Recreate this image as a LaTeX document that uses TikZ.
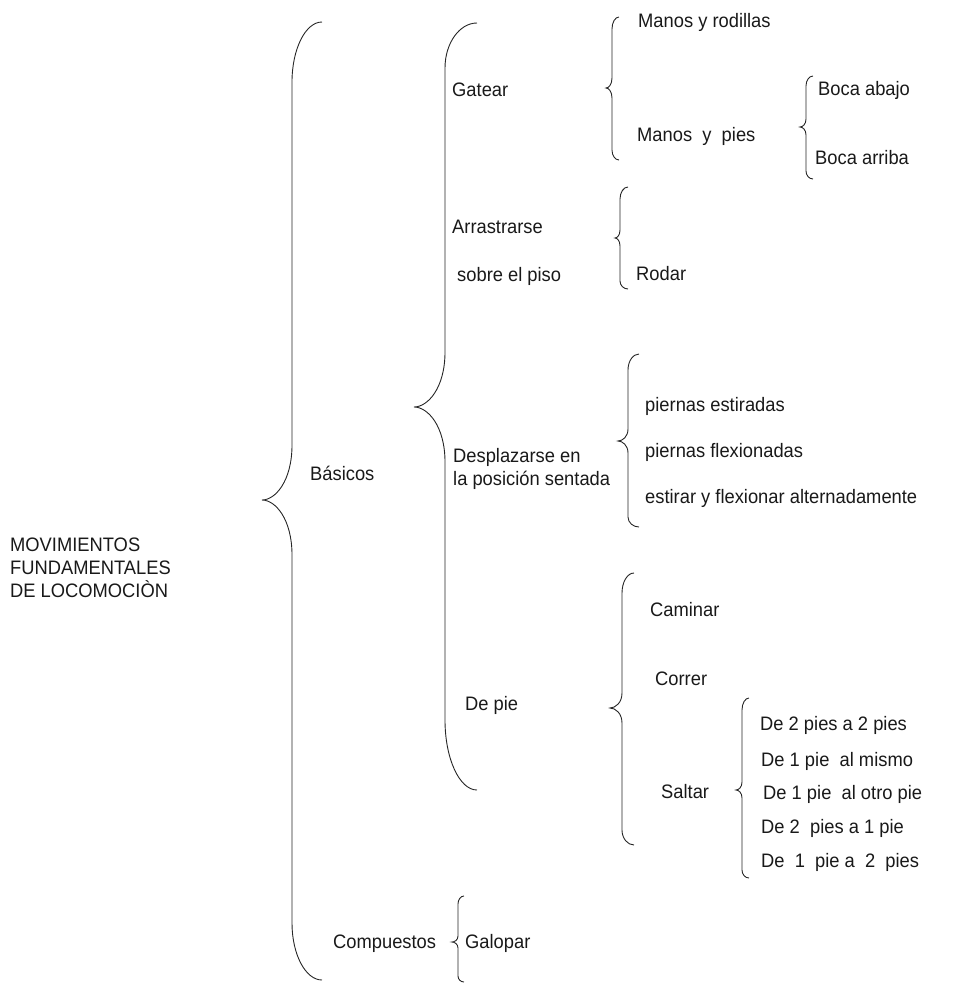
\documentclass[tikz,border=0pt]{standalone}
\usepackage{fontspec}
\setmainfont[FakeStretch=0.94]{Liberation Sans}
\newcommand\cbrace[9]{%
  % #1 end x, #2 vertical x, #3 tip x, #4 top y, #5 tip y, #6 bottom y, #7 top r, #8 mid r, #9 bottom r
  \draw[bracestyle] (#1,#4) .. controls ({#2+0.45*(#1-#2)},#4) and (#2,{#4+0.45*#7}) .. (#2,{#4+#7})
    -- (#2,{#5-#8}) .. controls (#2,{#5-0.35*#8}) and ({#3+0.45*(#2-#3)},#5) .. (#3,#5)
    .. controls ({#3+0.45*(#2-#3)},#5) and (#2,{#5+0.35*#8}) .. (#2,{#5+#8})
    -- (#2,{#6-#9}) .. controls (#2,{#6-0.45*#9}) and ({#2+0.45*(#1-#2)},#6) .. (#1,#6);}
\tikzset{
  bracestyle/.style={draw=black!85, line width=0.9pt},
  txt/.style={inner sep=0pt, font=\fontsize{19.5}{22.7}\selectfont, text=black!90},
  lbl/.style={txt, anchor=west, text height=0.72em, text depth=0pt},
  multi/.style={txt, anchor=north west, align=left},
}
\begin{document}
\begin{tikzpicture}[x=1pt,y=-1pt]
\useasboundingbox (0,0) rectangle (956,983);
% braces
\cbrace{322}{292}{262}{22}{500}{980}{60}{55}{57}
\cbrace{477}{445}{414}{23}{407}{790}{45}{55}{70}
\cbrace{619}{612}{606}{17}{88}{160}{12}{10}{10}
\cbrace{813}{806}{800}{76}{127}{179}{10}{8}{8}
\cbrace{628}{620}{615}{187}{238}{289}{12}{8}{8}
\cbrace{639}{628}{618}{354}{441}{527}{16}{12}{10}
\cbrace{634}{622}{610}{573}{708}{845}{20}{15}{15}
\cbrace{749}{742}{736}{698}{790}{878}{12}{8}{8}
\cbrace{464}{458}{452}{896}{942}{982}{8}{6}{6}
% labels
\node[multi] (root) at (10,538) {MOVIMIENTOS\\FUNDAMENTALES\\DE LOCOMOCIÒN};
\node[lbl] (bas) at (310,477) {Básicos};
\node[lbl] (comp) at (333,945) {Compuestos};
\node[lbl] (gal) at (465,945) {Galopar};
\node[lbl] (gat) at (452,92.5) {Gatear};
\node[lbl] (arr) at (452,230) {Arrastrarse};
\node[lbl] (arr2) at (457,278) {sobre el piso};
\node[multi] (des) at (453,448) {Desplazarse en\\ la posición sentada};
\node[lbl] (dep) at (465,707) {De pie};
\node[lbl] (mr) at (638,23.5) {Manos y rodillas};
\node[lbl] (mp) at (637,138) {Manos\ \ y\ \ pies};
\node[lbl] (ba) at (818,92) {Boca abajo};
\node[lbl] (bar) at (815,161) {Boca arriba};
\node[lbl] (rod) at (636,277) {Rodar};
\node[lbl] (pe) at (645,408) {piernas estiradas};
\node[lbl] (pf) at (645,454) {piernas flexionadas};
\node[lbl] (ef) at (645,500) {estirar y flexionar alternadamente};
\node[lbl] (cam) at (650,613) {Caminar};
\node[lbl] (cor) at (655,682) {Correr};
\node[lbl] (sal) at (661,795) {Saltar};
\node[lbl] (s1) at (760,727) {De 2 pies a 2 pies};
\node[lbl] (s2) at (761,763) {De 1 pie\ \ al mismo};
\node[lbl] (s3) at (763,796) {De 1 pie\ \ al otro pie};
\node[lbl] (s4) at (761,830) {De 2\ \ pies a 1 pie};
\node[lbl] (s5) at (761,864) {De\ \ 1\ \ pie a\ \ 2\ \ pies};
\end{tikzpicture}
\end{document}
